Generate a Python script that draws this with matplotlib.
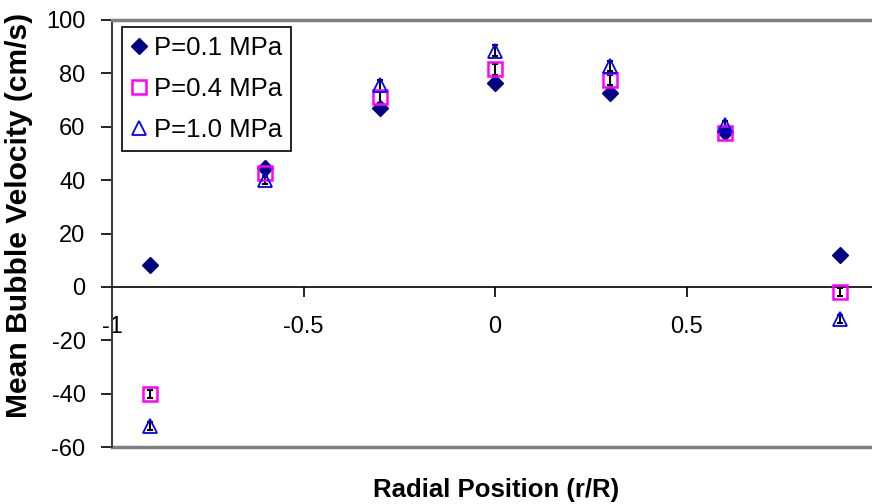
import matplotlib
matplotlib.use("Agg")
import matplotlib.pyplot as plt

plt.rcParams["font.family"] = ["Liberation Sans", "DejaVu Sans"]
plt.rcParams["axes.unicode_minus"] = False

# radial positions and mean bubble velocities (cm/s)
r_pos = [-0.9, -0.6, -0.3, 0.0, 0.3, 0.6, 0.9]
v_01 = [8.2, 44.5, 67.0, 76.5, 72.8, 58.0, 12.0]
v_04 = [-40.0, 42.7, 71.0, 81.5, 77.5, 57.8, -2.0]
v_10 = [-52.0, 40.0, 75.5, 88.5, 82.8, 60.5, -12.0]
err_01 = [1.5, 1.5, 1.5, 1.5, 1.5, 1.5, 1.5]
err_04 = [1.5, 1.5, 2.0, 2.0, 2.0, 1.5, 1.5]
err_10 = [1.5, 1.5, 2.0, 2.0, 2.0, 1.5, 1.5]

fig = plt.figure(figsize=(8.72, 5.04), dpi=100)
ax = fig.add_axes([112 / 872, 57 / 504, 766 / 872, 427 / 504])

# small black error bars
for v, e in [(v_01, err_01), (v_04, err_04), (v_10, err_10)]:
    ax.errorbar(r_pos, v, yerr=e, fmt="none", ecolor="black", elinewidth=1.5,
                capsize=2.5, capthick=1.5, zorder=2)

ax.plot(r_pos, v_01, linestyle="none", marker="D", markersize=8,
        color="#000080", label="P=0.1 MPa", zorder=3)
ax.plot(r_pos, v_04, linestyle="none", marker="s", markersize=9.5,
        markerfacecolor="none", markeredgecolor="#ff00ff", markeredgewidth=1.8,
        label="P=0.4 MPa", zorder=3)
ax.plot(r_pos, v_10, linestyle="none", marker="^", markersize=10,
        markerfacecolor="none", markeredgecolor="#0000ff", markeredgewidth=1.3,
        label="P=1.0 MPa", zorder=3)

ax.set_xlim(-1, 1)
ax.set_ylim(-60, 100)
ax.set_xticks([-1, -0.5, 0, 0.5])
ax.set_xticklabels(["-1", "-0.5", "0", "0.5"])
ax.set_yticks(range(-60, 101, 20))

ax.spines["bottom"].set_position(("data", 0))
ax.spines["bottom"].set_color("black")
ax.spines["bottom"].set_linewidth(1.2)
ax.spines["right"].set_visible(False)
ax.spines["top"].set_color("#808080")
ax.spines["top"].set_linewidth(2.5)
ax.spines["left"].set_color("#404040")
ax.spines["left"].set_linewidth(1.5)
ax.axhline(-60, color="#808080", linewidth=2.5, clip_on=False)

ax.tick_params(axis="x", direction="out", length=7, width=1.2, pad=14, labelsize=17)
ax.tick_params(axis="y", direction="out", length=8, width=1.2, pad=11, labelsize=17)

ax.set_ylabel("Mean Bubble Velocity (cm/s)", fontsize=21.6, fontweight="bold")
ax.yaxis.set_label_coords(-0.103, 0.543)
fig.text(496 / 872, 1 - 490 / 504, "Radial Position (r/R)", fontsize=18.5,
         fontweight="bold", ha="center", va="center")

leg = ax.legend(loc="upper left", bbox_to_anchor=(10 / 766, 1 - 7 / 427),
                borderaxespad=0, fontsize=18.5, handlelength=0.6, handletextpad=0.3,
                labelspacing=0.67, borderpad=0.35, fancybox=False, framealpha=1)
leg.get_frame().set_edgecolor("black")
leg.get_frame().set_linewidth(1.2)

fig.savefig("out.png", dpi=100)
